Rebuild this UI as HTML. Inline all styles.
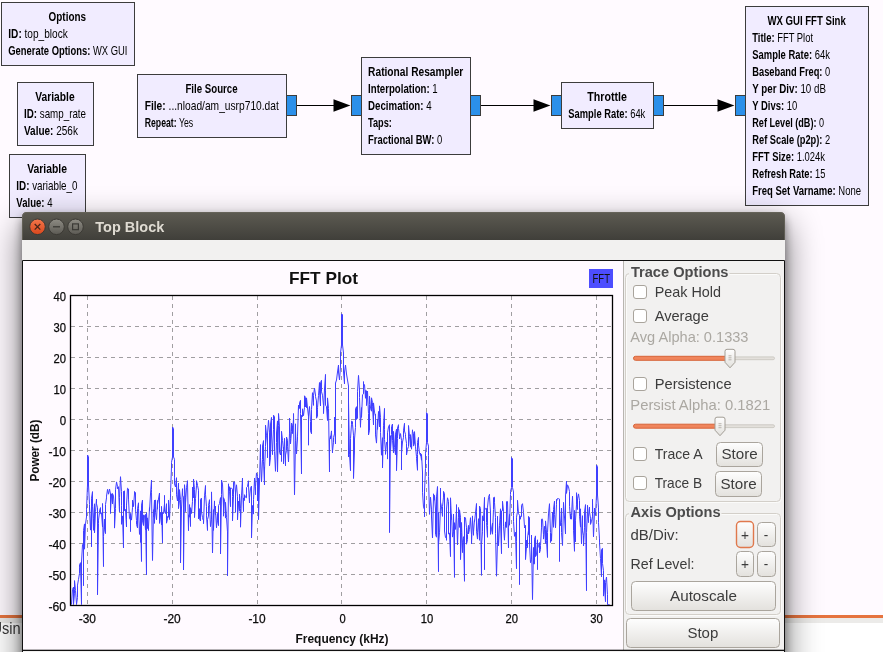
<!DOCTYPE html>
<html><head><meta charset="utf-8"><title>Top Block</title>
<style>html,body{margin:0;padding:0;background:#fffaff;overflow:hidden}svg{display:block}</style></head><body>
<svg width="883" height="652" viewBox="0 0 883 652">
<defs>
<filter id="shadow" x="-10%" y="-10%" width="120%" height="120%"><feGaussianBlur stdDeviation="17"/></filter>
<filter id="shadow2" x="-10%" y="-10%" width="120%" height="120%"><feGaussianBlur stdDeviation="5"/></filter>
<linearGradient id="tb" x1="0" y1="0" x2="0" y2="1"><stop offset="0" stop-color="#5d5b52"/><stop offset="1" stop-color="#3f3e39"/></linearGradient>
<linearGradient id="bclose" x1="0" y1="0" x2="0" y2="1"><stop offset="0" stop-color="#f4764a"/><stop offset="1" stop-color="#d9471d"/></linearGradient>
<linearGradient id="bgrey" x1="0" y1="0" x2="0" y2="1"><stop offset="0" stop-color="#8e8c84"/><stop offset="1" stop-color="#5c5a54"/></linearGradient>
<linearGradient id="btn" x1="0" y1="0" x2="0" y2="1"><stop offset="0" stop-color="#fefefe"/><stop offset="1" stop-color="#e3e1dd"/></linearGradient>
</defs>
<rect x="0" y="0" width="883" height="652" fill="#fffaff"/>
<g font-family="'Liberation Sans', sans-serif" font-size="11.9" fill="#000">
<rect x="1.5" y="2.5" width="133" height="63" fill="#f1ecff" stroke="#3c3c3c" stroke-width="1"/>
<text x="48.6" y="21" textLength="37.4" lengthAdjust="spacingAndGlyphs" font-weight="bold">Options</text>
<text x="8.3" y="38" textLength="59.5" lengthAdjust="spacingAndGlyphs"><tspan font-weight="bold">ID:</tspan> top_block</text>
<text x="8.3" y="55" textLength="119.1" lengthAdjust="spacingAndGlyphs"><tspan font-weight="bold">Generate Options:</tspan> WX GUI</text>
<rect x="17.5" y="82.5" width="76" height="63" fill="#f1ecff" stroke="#3c3c3c" stroke-width="1"/>
<text x="35.3" y="101" textLength="39.3" lengthAdjust="spacingAndGlyphs" font-weight="bold">Variable</text>
<text x="24" y="118" textLength="62.0" lengthAdjust="spacingAndGlyphs"><tspan font-weight="bold">ID:</tspan> samp_rate</text>
<text x="24" y="135" textLength="53.9" lengthAdjust="spacingAndGlyphs"><tspan font-weight="bold">Value:</tspan> 256k</text>
<rect x="9.5" y="154.5" width="76" height="63" fill="#f1ecff" stroke="#3c3c3c" stroke-width="1"/>
<text x="27.2" y="173" textLength="39.8" lengthAdjust="spacingAndGlyphs" font-weight="bold">Variable</text>
<text x="16.3" y="190" textLength="61.2" lengthAdjust="spacingAndGlyphs"><tspan font-weight="bold">ID:</tspan> variable_0</text>
<text x="16.3" y="207" textLength="36.2" lengthAdjust="spacingAndGlyphs"><tspan font-weight="bold">Value:</tspan> 4</text>
<rect x="137.5" y="74.5" width="149" height="63" fill="#f1ecff" stroke="#3c3c3c" stroke-width="1"/>
<text x="185.4" y="93" textLength="52.2" lengthAdjust="spacingAndGlyphs" font-weight="bold">File Source</text>
<text x="144.7" y="110" textLength="134.1" lengthAdjust="spacingAndGlyphs"><tspan font-weight="bold">File:</tspan> ...nload/am_usrp710.dat</text>
<text x="144.7" y="127" textLength="48.5" lengthAdjust="spacingAndGlyphs"><tspan font-weight="bold">Repeat:</tspan> Yes</text>
<rect x="286.5" y="95.5" width="10" height="20" fill="#2b90ea" stroke="#3c3c3c" stroke-width="1"/>
<line x1="297" y1="105.5" x2="335" y2="105.5" stroke="#000" stroke-width="1.2"/>
<polygon points="333.5,99.2 333.5,111.8 350.4,105.5" fill="#000"/>
<rect x="351.5" y="95.5" width="10" height="20" fill="#2b90ea" stroke="#3c3c3c" stroke-width="1"/>
<rect x="361.5" y="57.5" width="109" height="97" fill="#f1ecff" stroke="#3c3c3c" stroke-width="1"/>
<text x="368.1" y="76" textLength="95.2" lengthAdjust="spacingAndGlyphs" font-weight="bold">Rational Resampler</text>
<text x="368.1" y="93" textLength="69.6" lengthAdjust="spacingAndGlyphs"><tspan font-weight="bold">Interpolation:</tspan> 1</text>
<text x="368.1" y="110" textLength="63.5" lengthAdjust="spacingAndGlyphs"><tspan font-weight="bold">Decimation:</tspan> 4</text>
<text x="368.1" y="127" textLength="23.8" lengthAdjust="spacingAndGlyphs"><tspan font-weight="bold">Taps:</tspan></text>
<text x="368.1" y="144" textLength="74.1" lengthAdjust="spacingAndGlyphs"><tspan font-weight="bold">Fractional BW:</tspan> 0</text>
<rect x="470.5" y="95.5" width="10" height="20" fill="#2b90ea" stroke="#3c3c3c" stroke-width="1"/>
<line x1="481" y1="105.5" x2="535" y2="105.5" stroke="#000" stroke-width="1.2"/>
<polygon points="533.5,99.2 533.5,111.8 550.4,105.5" fill="#000"/>
<rect x="551.5" y="95.5" width="10" height="20" fill="#2b90ea" stroke="#3c3c3c" stroke-width="1"/>
<rect x="561.5" y="82.5" width="92" height="46" fill="#f1ecff" stroke="#3c3c3c" stroke-width="1"/>
<text x="587.3" y="101" textLength="39.7" lengthAdjust="spacingAndGlyphs" font-weight="bold">Throttle</text>
<text x="568.3" y="118" textLength="77.0" lengthAdjust="spacingAndGlyphs"><tspan font-weight="bold">Sample Rate:</tspan> 64k</text>
<rect x="653.5" y="95.5" width="10" height="20" fill="#2b90ea" stroke="#3c3c3c" stroke-width="1"/>
<line x1="664" y1="105.5" x2="719" y2="105.5" stroke="#000" stroke-width="1.2"/>
<polygon points="717.5,99.2 717.5,111.8 734.4,105.5" fill="#000"/>
<rect x="735.5" y="95.5" width="10" height="20" fill="#2b90ea" stroke="#3c3c3c" stroke-width="1"/>
<rect x="745.5" y="6.5" width="123" height="199" fill="#f1ecff" stroke="#3c3c3c" stroke-width="1"/>
<text x="767.4" y="25" textLength="78.4" lengthAdjust="spacingAndGlyphs" font-weight="bold">WX GUI FFT Sink</text>
<text x="752.3" y="42" textLength="60.7" lengthAdjust="spacingAndGlyphs"><tspan font-weight="bold">Title:</tspan> FFT Plot</text>
<text x="752.3" y="59" textLength="77.6" lengthAdjust="spacingAndGlyphs"><tspan font-weight="bold">Sample Rate:</tspan> 64k</text>
<text x="752.3" y="76" textLength="77.9" lengthAdjust="spacingAndGlyphs"><tspan font-weight="bold">Baseband Freq:</tspan> 0</text>
<text x="752.3" y="93" textLength="73.6" lengthAdjust="spacingAndGlyphs"><tspan font-weight="bold">Y per Div:</tspan> 10 dB</text>
<text x="752.3" y="110" textLength="45.0" lengthAdjust="spacingAndGlyphs"><tspan font-weight="bold">Y Divs:</tspan> 10</text>
<text x="752.3" y="127" textLength="71.8" lengthAdjust="spacingAndGlyphs"><tspan font-weight="bold">Ref Level (dB):</tspan> 0</text>
<text x="752.3" y="144" textLength="77.9" lengthAdjust="spacingAndGlyphs"><tspan font-weight="bold">Ref Scale (p2p):</tspan> 2</text>
<text x="752.3" y="161" textLength="72.7" lengthAdjust="spacingAndGlyphs"><tspan font-weight="bold">FFT Size:</tspan> 1.024k</text>
<text x="752.3" y="178" textLength="73.1" lengthAdjust="spacingAndGlyphs"><tspan font-weight="bold">Refresh Rate:</tspan> 15</text>
<text x="752.3" y="195" textLength="108.7" lengthAdjust="spacingAndGlyphs"><tspan font-weight="bold">Freq Set Varname:</tspan> None</text>
</g>
<rect x="0" y="618" width="883" height="40" fill="#ffffff"/>
<rect x="0" y="618" width="883" height="5" fill="#ecebe9"/>
<rect x="0" y="615" width="883" height="3" fill="#e6743f"/>
<text x="-8.6" y="633.6" textLength="29.2" lengthAdjust="spacingAndGlyphs" font-family="'Liberation Sans', sans-serif" font-size="16" fill="#3a3a3a">Usin</text>
<rect x="20" y="224" width="767" height="500" rx="6" fill="#000" opacity="0.5" filter="url(#shadow)"/>
<rect x="22" y="217" width="763" height="500" rx="6" fill="#000" opacity="0.42" filter="url(#shadow2)"/>
<path d="M22,241 V217 Q22,212 27,212 H780 Q785,212 785,217 V241 Z" fill="url(#tb)"/>
<path d="M22.5,240 V217 Q22.5,212.5 27,212.5 H780 Q784.5,212.5 784.5,217 V240" fill="none" stroke="#6a675d" stroke-width="1" opacity="0.7"/>
<rect x="22" y="240" width="763" height="412" fill="#f2f1f0"/>
<circle cx="37.5" cy="226.8" r="7.8" fill="url(#bclose)" stroke="#3b3934" stroke-width="1"/>
<path d="M34.7,224.0 l5.6,5.6 M40.3,224.0 l-5.6,5.6" stroke="#4a2518" stroke-width="1.3" fill="none"/>
<circle cx="56.5" cy="226.8" r="7.8" fill="url(#bgrey)" stroke="#3b3934" stroke-width="1"/>
<path d="M53,226.8 h7" stroke="#3a3935" stroke-width="1.3"/>
<circle cx="75.5" cy="226.8" r="7.8" fill="url(#bgrey)" stroke="#3b3934" stroke-width="1"/>
<rect x="72.6" y="223.9" width="5.8" height="5.8" fill="none" stroke="#3a3935" stroke-width="1.2"/>
<text x="95.3" y="232.2" textLength="69" lengthAdjust="spacingAndGlyphs" font-family="'Liberation Sans', sans-serif" font-weight="bold" font-size="14.6" fill="#dfdbd2">Top Block</text>
<rect x="23" y="261" width="601" height="390" fill="#fffaff"/>
<g stroke="#a09ea1" stroke-width="1" stroke-dasharray="4,4" shape-rendering="crispEdges">
<line x1="87.5" y1="296" x2="87.5" y2="605"/>
<line x1="172.5" y1="296" x2="172.5" y2="605"/>
<line x1="257.5" y1="296" x2="257.5" y2="605"/>
<line x1="341.5" y1="296" x2="341.5" y2="605"/>
<line x1="426.5" y1="296" x2="426.5" y2="605"/>
<line x1="511.5" y1="296" x2="511.5" y2="605"/>
<line x1="596.5" y1="296" x2="596.5" y2="605"/>
<line x1="71" y1="326.5" x2="612" y2="326.5"/>
<line x1="71" y1="357.5" x2="612" y2="357.5"/>
<line x1="71" y1="388.5" x2="612" y2="388.5"/>
<line x1="71" y1="419.5" x2="612" y2="419.5"/>
<line x1="71" y1="450.5" x2="612" y2="450.5"/>
<line x1="71" y1="481.5" x2="612" y2="481.5"/>
<line x1="71" y1="512.5" x2="612" y2="512.5"/>
<line x1="71" y1="543.5" x2="612" y2="543.5"/>
<line x1="71" y1="574.5" x2="612" y2="574.5"/>
</g>
<polyline points="71.5,604.5 72.5,589.4 73.5,587.1 73.5,604.5 74.5,593.2 74.5,589.7 74.5,580.6 75.5,590.5 76.5,603.9 76.5,604.5 77.5,597.4 77.5,585.1 78.5,579.4 79.5,573.3 79.5,567.1 79.5,564.9 80.5,562.7 80.5,563.9 81.5,604.5 81.5,562.0 82.5,544.9 83.5,543.0 83.5,585.7 83.5,530.5 84.5,523.9 84.5,549.2 85.5,523.9 86.5,517.0 86.5,509.2 87.5,485.0 87.5,455.0 88.5,456.5 88.5,485.0 89.5,504.4 89.5,509.0 90.5,530.1 91.5,506.4 91.5,546.8 91.5,498.2 92.5,491.6 92.5,506.1 93.5,530.3 93.5,518.8 94.5,503.8 94.5,533.0 95.5,511.5 96.5,499.0 96.5,503.8 97.5,507.8 97.5,594.8 98.5,523.8 98.5,520.1 99.5,512.4 99.5,510.9 100.5,507.6 100.5,513.7 101.5,512.8 102.5,526.8 102.5,503.5 103.5,566.6 103.5,536.4 104.5,519.1 104.5,529.2 105.5,533.6 105.5,504.5 106.5,497.9 106.5,496.1 107.5,489.6 107.5,489.3 108.5,494.2 108.5,494.0 109.5,489.0 110.5,494.0 110.5,513.5 110.5,510.8 111.5,493.8 111.5,494.9 112.5,504.0 112.5,493.5 113.5,496.1 114.5,509.1 114.5,528.1 115.5,508.4 115.5,489.8 116.5,482.3 116.5,481.9 117.5,486.3 117.5,488.8 118.5,486.7 119.5,511.8 119.5,506.8 119.5,497.6 120.5,476.7 121.5,491.7 121.5,505.8 121.5,524.3 122.5,515.9 123.5,548.0 123.5,491.3 124.5,493.1 124.5,490.8 124.5,510.8 125.5,509.4 126.5,526.9 126.5,519.8 126.5,505.1 127.5,488.2 128.5,489.0 128.5,499.1 129.5,518.7 130.5,519.8 130.5,531.6 130.5,513.4 131.5,520.1 132.5,507.8 132.5,500.1 133.5,505.2 133.5,506.6 134.5,494.0 134.5,491.5 135.5,492.5 135.5,509.2 136.5,520.5 136.5,524.4 137.5,527.9 137.5,508.8 138.5,502.8 138.5,508.2 139.5,534.4 140.5,520.3 140.5,542.4 140.5,510.9 141.5,561.5 141.5,505.1 142.5,500.0 142.5,520.9 143.5,525.5 143.5,515.0 144.5,515.4 145.5,529.9 145.5,514.4 146.5,574.8 146.5,512.6 147.5,528.5 147.5,517.9 148.5,530.5 148.5,526.9 149.5,507.7 149.5,510.8 150.5,494.0 151.5,480.0 151.5,489.6 151.5,492.2 152.5,560.5 153.5,509.7 153.5,516.8 154.5,500.1 154.5,523.4 154.5,510.1 155.5,499.9 155.5,512.2 156.5,519.7 157.5,500.5 157.5,509.2 157.5,504.7 159.5,493.0 159.5,508.9 159.5,523.4 160.5,512.5 161.5,524.8 161.5,507.1 161.5,506.4 162.5,542.9 162.5,512.6 163.5,513.5 164.5,503.9 164.5,495.4 164.5,511.5 165.5,513.5 166.5,503.7 166.5,523.2 167.5,518.8 167.5,516.4 168.5,517.2 168.5,500.1 169.5,516.4 169.5,519.5 170.5,497.1 170.5,493.1 171.5,467.0 171.5,462.3 172.5,457.0 172.5,427.0 173.5,428.5 173.5,457.0 174.5,459.3 174.5,477.9 174.5,483.9 175.5,487.0 175.5,487.0 176.5,477.7 176.5,494.8 177.5,501.0 178.5,483.0 178.5,508.6 179.5,500.8 179.5,489.6 180.5,499.4 180.5,563.0 181.5,507.1 181.5,507.8 182.5,488.7 182.5,495.2 183.5,497.1 183.5,570.0 184.5,484.7 185.5,497.7 185.5,511.6 185.5,503.1 186.5,487.7 187.5,480.7 187.5,483.1 188.5,530.7 188.5,514.8 189.5,517.2 189.5,504.6 190.5,526.5 190.5,507.7 191.5,510.9 191.5,513.5 192.5,501.4 192.5,487.0 193.5,497.8 193.5,479.0 194.5,489.3 194.5,517.6 195.5,498.5 196.5,485.8 196.5,480.7 197.5,485.0 197.5,485.4 198.5,490.2 198.5,518.9 199.5,508.7 199.5,518.8 200.5,521.0 200.5,499.3 201.5,498.1 201.5,512.1 202.5,517.5 202.5,518.5 203.5,520.5 203.5,523.7 204.5,495.8 205.5,485.5 205.5,494.2 206.5,506.7 206.5,515.9 207.5,530.5 207.5,519.6 208.5,516.1 208.5,505.5 209.5,499.7 209.5,504.6 210.5,526.6 211.5,519.3 211.5,497.0 211.5,491.9 212.5,553.0 213.5,509.6 213.5,530.4 214.5,500.9 214.5,506.7 215.5,514.8 215.5,506.1 215.5,511.4 216.5,527.9 217.5,513.4 217.5,520.7 218.5,525.6 218.5,505.7 219.5,503.6 219.5,503.4 220.5,497.6 220.5,554.0 221.5,494.4 221.5,480.0 222.5,484.1 223.5,507.3 223.5,516.2 223.5,497.7 224.5,499.9 225.5,518.1 225.5,508.9 225.5,502.3 226.5,517.5 227.5,531.9 227.5,575.8 228.5,483.8 228.5,489.9 229.5,486.7 229.5,491.2 230.5,506.7 230.5,487.9 231.5,488.1 232.5,489.2 232.5,496.3 232.5,520.8 233.5,494.9 233.5,482.1 234.5,481.8 235.5,492.9 235.5,512.4 235.5,493.4 236.5,484.8 237.5,496.8 237.5,519.8 238.5,501.1 238.5,503.3 239.5,511.2 239.5,494.2 240.5,508.5 240.5,527.2 241.5,495.9 242.5,478.0 242.5,486.1 243.5,511.6 243.5,497.9 244.5,500.1 244.5,500.5 244.5,494.7 245.5,497.3 246.5,497.8 246.5,493.9 246.5,487.5 247.5,486.5 248.5,480.8 248.5,486.1 249.5,503.0 249.5,497.5 250.5,488.2 251.5,486.0 251.5,486.8 251.5,538.0 252.5,505.5 253.5,514.1 253.5,499.7 254.5,479.5 254.5,478.0 255.5,491.6 255.5,494.7 255.5,486.5 256.5,472.9 257.5,476.4 257.5,501.0 257.5,491.6 258.5,478.0 258.5,519.7 260.5,444.6 260.5,446.4 260.5,457.4 261.5,482.0 262.5,459.7 262.5,446.0 263.5,440.6 263.5,461.8 264.5,485.0 264.5,467.2 264.5,470.2 265.5,446.4 265.5,425.2 266.5,435.2 267.5,445.4 267.5,457.8 267.5,434.0 268.5,420.3 269.5,432.1 269.5,465.8 270.5,457.2 270.5,424.0 271.5,417.4 271.5,435.0 272.5,454.6 272.5,452.6 273.5,429.3 273.5,415.2 274.5,416.6 274.5,451.5 275.5,471.3 276.5,442.6 276.5,433.0 277.5,420.9 277.5,472.0 278.5,425.3 278.5,413.5 279.5,426.9 279.5,452.2 280.5,455.0 281.5,440.9 281.5,461.5 281.5,431.3 282.5,440.4 283.5,450.1 283.5,447.4 283.5,463.9 284.5,439.1 284.5,438.3 285.5,465.8 285.5,455.0 286.5,450.3 286.5,437.0 287.5,440.2 287.5,446.2 288.5,462.0 289.5,433.1 289.5,418.0 290.5,438.7 290.5,443.9 291.5,431.2 291.5,423.0 292.5,425.6 292.5,433.6 293.5,418.6 293.5,413.5 294.5,494.8 295.5,440.3 295.5,423.8 295.5,431.0 296.5,453.9 297.5,439.0 297.5,436.1 298.5,405.2 298.5,409.5 299.5,408.3 299.5,402.9 300.5,400.3 300.5,413.6 301.5,474.0 301.5,415.3 302.5,416.6 302.5,408.8 303.5,415.7 304.5,407.4 304.5,395.8 305.5,397.4 305.5,407.0 305.5,398.0 306.5,407.7 306.5,397.9 307.5,408.0 308.5,416.3 308.5,445.2 308.5,416.2 309.5,406.5 310.5,421.5 310.5,430.8 311.5,433.8 311.5,409.5 312.5,392.7 313.5,405.4 313.5,402.5 313.5,395.3 314.5,388.1 315.5,395.0 315.5,396.6 316.5,400.9 316.5,418.2 317.5,416.3 317.5,409.2 317.5,407.8 318.5,395.5 319.5,382.5 319.5,390.9 320.5,406.0 320.5,382.7 321.5,380.3 321.5,391.8 322.5,395.2 323.5,405.4 323.5,412.0 323.5,413.6 324.5,389.0 325.5,374.4 325.5,390.1 325.5,405.2 326.5,406.7 327.5,420.5 327.5,418.1 327.5,397.9 328.5,408.6 329.5,472.0 329.5,439.9 330.5,435.9 330.5,439.0 331.5,430.9 331.5,432.7 332.5,453.0 332.5,451.4 333.5,442.2 333.5,437.4 334.5,433.9 334.5,417.0 335.5,444.0 335.5,383.0 336.5,380.0 337.5,372.0 338.5,365.0 338.5,372.0 339.5,380.0 340.5,366.0 340.5,353.0 341.5,345.0 341.5,314.0 342.5,314.5 342.5,345.0 343.5,353.0 343.5,372.0 344.5,384.0 344.5,372.0 345.5,365.0 346.5,374.0 347.5,380.0 348.5,386.0 348.5,457.0 348.5,393.3 348.5,401.6 349.5,454.2 350.5,470.7 350.5,438.4 351.5,424.2 351.5,421.1 352.5,421.6 352.5,424.2 353.5,435.2 353.5,478.5 354.5,450.2 354.5,439.0 355.5,427.4 355.5,408.9 356.5,406.7 356.5,419.5 357.5,418.0 357.5,391.7 358.5,375.4 359.5,390.1 359.5,397.6 360.5,427.3 360.5,425.0 361.5,407.6 361.5,417.4 362.5,394.7 363.5,393.9 363.5,381.6 363.5,384.2 364.5,384.6 365.5,398.3 365.5,390.4 366.5,390.8 366.5,405.6 367.5,394.8 367.5,391.0 368.5,413.6 368.5,435.0 369.5,430.2 369.5,404.5 369.5,396.2 370.5,408.3 371.5,411.2 371.5,397.8 372.5,402.6 372.5,406.1 373.5,425.0 373.5,402.9 374.5,412.1 375.5,416.4 375.5,414.2 375.5,434.9 376.5,443.1 377.5,419.0 377.5,429.4 378.5,411.8 378.5,411.4 379.5,427.0 379.5,405.9 380.5,417.3 380.5,432.6 381.5,455.2 381.5,449.1 382.5,437.7 382.5,468.0 383.5,425.8 384.5,408.4 384.5,429.3 384.5,439.7 385.5,451.2 385.5,454.4 386.5,442.2 387.5,444.9 387.5,459.1 387.5,432.8 388.5,427.0 389.5,424.7 389.5,532.6 390.5,435.7 390.5,450.6 391.5,434.4 391.5,426.6 392.5,424.0 392.5,440.3 393.5,452.8 393.5,431.4 394.5,447.4 395.5,454.7 395.5,434.1 396.5,429.2 396.5,470.7 397.5,438.6 397.5,428.0 398.5,424.7 398.5,425.3 398.5,428.7 399.5,436.3 399.5,439.0 400.5,433.6 401.5,440.3 401.5,470.0 401.5,453.7 402.5,442.0 403.5,437.3 403.5,430.2 404.5,423.3 404.5,431.0 405.5,434.4 405.5,436.8 406.5,443.3 406.5,455.0 407.5,449.3 408.5,446.5 408.5,426.0 408.5,425.5 409.5,436.4 410.5,447.2 410.5,434.6 411.5,443.1 411.5,449.2 412.5,429.8 412.5,431.2 413.5,433.4 413.5,446.1 414.5,443.0 414.5,431.6 415.5,446.8 416.5,456.7 416.5,458.3 417.5,470.3 417.5,454.5 417.5,442.4 418.5,437.4 418.5,445.1 419.5,453.1 420.5,455.6 420.5,453.0 421.5,460.2 421.5,454.4 422.5,472.0 422.5,492.3 423.5,506.9 424.5,509.6 424.5,516.8 424.5,491.1 425.5,468.5 425.5,453.2 426.5,442.6 426.5,412.6 427.5,414.1 427.5,442.6 428.5,446.1 428.5,455.7 428.5,476.5 429.5,514.4 430.5,497.4 430.5,497.1 431.5,509.1 431.5,518.0 431.5,517.2 432.5,538.0 433.5,496.9 433.5,493.8 434.5,500.2 434.5,495.4 435.5,509.0 435.5,534.4 436.5,537.2 436.5,496.9 437.5,486.5 438.5,571.7 438.5,512.4 438.5,544.5 439.5,532.8 440.5,507.1 440.5,488.0 440.5,502.2 441.5,506.8 442.5,516.4 442.5,506.5 443.5,497.1 443.5,491.4 444.5,493.7 444.5,531.0 445.5,537.6 446.5,537.4 446.5,540.3 446.5,509.1 447.5,497.8 448.5,501.4 448.5,516.0 448.5,534.0 449.5,533.1 450.5,556.6 450.5,505.9 450.5,497.8 451.5,519.5 451.5,514.6 452.5,537.1 453.5,531.7 453.5,514.0 454.5,577.4 454.5,522.7 455.5,529.4 456.5,509.4 456.5,504.6 456.5,513.9 457.5,544.8 458.5,517.5 458.5,507.5 459.5,527.4 459.5,509.8 460.5,517.2 460.5,559.6 461.5,532.7 461.5,522.5 462.5,552.6 462.5,542.4 463.5,536.7 463.5,538.3 464.5,581.3 464.5,517.0 465.5,518.0 466.5,527.8 466.5,533.9 466.5,544.2 467.5,539.6 467.5,534.4 468.5,525.4 468.5,534.0 469.5,529.3 470.5,517.7 470.5,519.9 471.5,534.7 471.5,544.0 472.5,515.9 472.5,520.0 473.5,535.3 473.5,531.9 474.5,519.8 474.5,521.8 475.5,513.0 476.5,503.5 476.5,511.7 476.5,531.2 477.5,539.1 477.5,532.8 478.5,518.7 478.5,522.8 479.5,540.3 479.5,506.1 480.5,508.4 481.5,575.4 481.5,544.3 482.5,531.8 482.5,515.8 483.5,520.7 484.5,497.4 484.5,569.7 484.5,507.3 485.5,509.2 486.5,508.3 486.5,522.4 487.5,537.3 487.5,525.4 487.5,507.2 488.5,497.4 489.5,494.3 489.5,496.4 490.5,512.1 490.5,534.4 491.5,529.2 491.5,528.9 492.5,523.1 492.5,534.2 493.5,509.5 493.5,497.6 494.5,497.2 494.5,502.8 495.5,517.4 495.5,533.7 496.5,576.2 497.5,540.9 497.5,516.3 497.5,522.5 498.5,542.9 498.5,545.8 499.5,525.8 500.5,508.8 500.5,519.2 501.5,553.7 501.5,510.9 502.5,510.6 502.5,501.3 503.5,511.2 503.5,526.2 504.5,540.2 504.5,538.5 505.5,521.9 505.5,527.1 506.5,527.4 506.5,501.6 507.5,501.5 508.5,547.9 508.5,528.8 508.5,527.4 509.5,514.4 509.5,525.2 510.5,494.5 510.5,491.5 511.5,487.5 511.5,457.5 512.5,459.0 512.5,487.5 513.5,492.0 513.5,515.7 513.5,521.4 514.5,536.3 515.5,532.2 516.5,568.7 516.5,541.4 516.5,517.2 517.5,511.4 517.5,500.3 518.5,513.5 519.5,515.3 519.5,584.6 519.5,519.1 520.5,519.1 520.5,516.2 521.5,516.7 521.5,505.3 522.5,503.7 523.5,512.4 524.5,526.8 524.5,527.9 525.5,525.4 525.5,559.6 526.5,546.6 526.5,540.0 527.5,547.7 527.5,538.1 528.5,530.4 528.5,534.5 528.5,516.4 529.5,517.4 529.5,544.1 530.5,562.7 531.5,559.6 531.5,535.1 531.5,541.1 532.5,599.6 533.5,547.5 533.5,563.9 534.5,563.9 534.5,539.2 535.5,535.9 535.5,556.6 536.5,554.8 537.5,539.8 537.5,569.6 537.5,548.6 538.5,545.7 539.5,542.6 539.5,552.9 540.5,549.5 540.5,545.7 541.5,527.9 541.5,519.2 542.5,519.0 542.5,519.3 543.5,534.5 543.5,539.1 544.5,526.3 545.5,543.4 545.5,529.7 545.5,520.9 546.5,532.0 546.5,540.6 547.5,557.5 547.5,532.4 548.5,513.9 549.5,503.7 549.5,504.9 550.5,532.6 550.5,542.5 551.5,533.8 551.5,541.1 552.5,512.1 552.5,515.5 553.5,527.3 553.5,509.5 554.5,501.1 554.5,514.4 555.5,527.8 556.5,504.3 556.5,499.4 556.5,501.3 557.5,498.5 558.5,498.6 558.5,498.6 559.5,499.1 559.5,561.5 559.5,519.0 560.5,525.7 561.5,508.0 561.5,522.2 561.5,532.6 562.5,545.5 563.5,503.9 563.5,502.4 564.5,518.0 564.5,516.7 565.5,534.0 565.5,496.0 566.5,481.1 566.5,493.4 567.5,485.2 567.5,484.8 568.5,486.9 569.5,491.6 569.5,506.3 570.5,519.1 570.5,513.9 571.5,519.2 571.5,515.7 572.5,496.8 572.5,496.2 573.5,521.0 573.5,530.2 574.5,551.3 574.5,510.4 575.5,541.9 575.5,520.2 576.5,504.9 576.5,492.7 577.5,509.5 577.5,498.8 578.5,493.9 579.5,500.6 579.5,516.2 580.5,527.1 580.5,508.8 580.5,511.0 581.5,543.9 582.5,515.7 582.5,530.9 583.5,535.7 583.5,546.0 584.5,527.8 584.5,512.2 585.5,504.6 585.5,505.1 586.5,590.7 586.5,532.5 587.5,511.6 587.5,505.3 588.5,522.6 588.5,516.8 589.5,507.1 589.5,511.9 590.5,518.2 590.5,524.4 591.5,521.2 592.5,516.6 592.5,499.3 592.5,503.0 593.5,536.8 594.5,512.0 594.5,508.0 595.5,515.5 595.5,514.8 596.5,495.0 596.5,465.0 597.5,466.5 597.5,495.0 598.5,507.9 598.5,522.7 599.5,538.9 599.5,542.9 600.5,558.5 601.5,576.8 601.5,549.5 602.5,548.3 602.5,563.5 603.5,570.7 603.5,596.1 604.5,579.9 604.5,587.0 605.5,601.7 605.5,582.6 606.5,577.0 607.5,594.7 607.5,604.5 607.5,604.5 608.5,604.5 608.5,604.5 609.5,604.5 609.5,604.5" fill="none" stroke="#3f3fff" stroke-width="1.0" stroke-linejoin="bevel"/>
<rect x="70.5" y="295.5" width="542" height="310" fill="none" stroke="#000" stroke-width="1.3"/>
<g font-family="'Liberation Sans', sans-serif" font-size="12" fill="#0a0a0a" stroke="#0a0a0a" stroke-width="0.25">
<text x="53.6" y="300.8" textLength="12.5" lengthAdjust="spacingAndGlyphs">40</text>
<text x="53.6" y="331.8" textLength="12.5" lengthAdjust="spacingAndGlyphs">30</text>
<text x="53.6" y="362.8" textLength="12.5" lengthAdjust="spacingAndGlyphs">20</text>
<text x="53.6" y="393.8" textLength="12.5" lengthAdjust="spacingAndGlyphs">10</text>
<text x="59.7" y="424.8" textLength="6.4" lengthAdjust="spacingAndGlyphs">0</text>
<text x="48.5" y="455.8" textLength="17.6" lengthAdjust="spacingAndGlyphs">-10</text>
<text x="48.5" y="486.8" textLength="17.6" lengthAdjust="spacingAndGlyphs">-20</text>
<text x="48.5" y="517.8" textLength="17.6" lengthAdjust="spacingAndGlyphs">-30</text>
<text x="48.5" y="548.8" textLength="17.6" lengthAdjust="spacingAndGlyphs">-40</text>
<text x="48.5" y="579.8" textLength="17.6" lengthAdjust="spacingAndGlyphs">-50</text>
<text x="48.5" y="610.8" textLength="17.6" lengthAdjust="spacingAndGlyphs">-60</text>
<text x="78.7" y="623.1" textLength="17.2" lengthAdjust="spacingAndGlyphs">-30</text>
<text x="163.5" y="623.1" textLength="17.2" lengthAdjust="spacingAndGlyphs">-20</text>
<text x="248.4" y="623.1" textLength="17.2" lengthAdjust="spacingAndGlyphs">-10</text>
<text x="339.6" y="623.1" textLength="6.2" lengthAdjust="spacingAndGlyphs">0</text>
<text x="420.7" y="623.1" textLength="12.5" lengthAdjust="spacingAndGlyphs">10</text>
<text x="505.5" y="623.1" textLength="12.5" lengthAdjust="spacingAndGlyphs">20</text>
<text x="590.3" y="623.1" textLength="12.5" lengthAdjust="spacingAndGlyphs">30</text>
</g>
<text x="289" y="284" textLength="69" lengthAdjust="spacingAndGlyphs" font-family="'Liberation Sans', sans-serif" font-weight="bold" font-size="16.5" fill="#111">FFT Plot</text>
<text x="295.5" y="642.6" textLength="93" lengthAdjust="spacingAndGlyphs" font-family="'Liberation Sans', sans-serif" font-weight="bold" font-size="12" fill="#111">Frequency (kHz)</text>
<text transform="translate(38.8,481.6) rotate(-90)" x="0" y="0" textLength="62" lengthAdjust="spacingAndGlyphs" font-family="'Liberation Sans', sans-serif" font-weight="bold" font-size="12" fill="#111">Power (dB)</text>
<rect x="589" y="269" width="24" height="19" fill="#4d4dff"/>
<text x="592.5" y="283" textLength="17.5" lengthAdjust="spacingAndGlyphs" font-family="'Liberation Sans', sans-serif" font-size="12" fill="#111">FFT</text>
<g font-family="'Liberation Sans', sans-serif">
<rect x="623" y="261" width="1" height="390" fill="#b8b5b0"/>
<rect x="626.5" y="274.5" width="155" height="228" rx="4" fill="none" stroke="#fbfbfa" stroke-width="1"/>
<rect x="625.5" y="273.5" width="155" height="228" rx="4" fill="none" stroke="#d3cfc9" stroke-width="1"/>
<rect x="629" y="266" width="100.5" height="14" fill="#f2f1f0"/>
<text x="630.9" y="277" textLength="97.6" lengthAdjust="spacingAndGlyphs" font-weight="bold" fill="#4c4c4c" font-size="14.5">Trace Options</text>
<rect x="633.5" y="285.5" width="13" height="13" rx="2.5" fill="#fff" stroke="#a9a49c" stroke-width="1"/>
<text x="654.7" y="296.8" textLength="66.3" lengthAdjust="spacingAndGlyphs" fill="#3c3c3c" font-size="14.5">Peak Hold</text>
<rect x="633.5" y="309.5" width="13" height="13" rx="2.5" fill="#fff" stroke="#a9a49c" stroke-width="1"/>
<text x="654.7" y="320.6" textLength="54.1" lengthAdjust="spacingAndGlyphs" fill="#3c3c3c" font-size="14.5">Average</text>
<text x="630.3" y="342.2" textLength="118.2" lengthAdjust="spacingAndGlyphs" fill="#aba8a2" font-size="14.5">Avg Alpha: 0.1333</text>
<rect x="633.5" y="356.90000000000003" width="141" height="2.8" rx="1.4" fill="#e3e0db" stroke="#cbc7c1" stroke-width="0.9"/>
<rect x="633.5" y="356.3" width="97" height="4" rx="2" fill="#f0855c" stroke="#d9663a" stroke-width="1"/>
<path d="M725,351.3 q0,-2 2,-2 h6 q2,0 2,2 v11 l-5,5.5 l-5,-5.5 Z" fill="url(#btn)" stroke="#a39e96" stroke-width="1"/>
<path d="M728.5,355.8 h3 M728.5,357.8 h3 M728.5,359.8 h3" stroke="#aaa59d" stroke-width="0.8"/>
<rect x="633.5" y="377.5" width="13" height="13" rx="2.5" fill="#fff" stroke="#a9a49c" stroke-width="1"/>
<text x="654.7" y="389" textLength="76.9" lengthAdjust="spacingAndGlyphs" fill="#3c3c3c" font-size="14.5">Persistence</text>
<text x="630.3" y="410.2" textLength="140.0" lengthAdjust="spacingAndGlyphs" fill="#aba8a2" font-size="14.5">Persist Alpha: 0.1821</text>
<rect x="633.5" y="424.8" width="141" height="2.8" rx="1.4" fill="#e3e0db" stroke="#cbc7c1" stroke-width="0.9"/>
<rect x="633.5" y="424.2" width="87" height="4" rx="2" fill="#f0855c" stroke="#d9663a" stroke-width="1"/>
<path d="M715,419.2 q0,-2 2,-2 h6 q2,0 2,2 v11 l-5,5.5 l-5,-5.5 Z" fill="url(#btn)" stroke="#a39e96" stroke-width="1"/>
<path d="M718.5,423.7 h3 M718.5,425.7 h3 M718.5,427.7 h3" stroke="#aaa59d" stroke-width="0.8"/>
<rect x="633.5" y="447.5" width="13" height="13" rx="2.5" fill="#fff" stroke="#a9a49c" stroke-width="1"/>
<text x="654.7" y="458.6" textLength="47.9" lengthAdjust="spacingAndGlyphs" fill="#3c3c3c" font-size="14.5">Trace A</text>
<rect x="716.5" y="442.5" width="46" height="24" rx="4" fill="url(#btn)" stroke="#aaa59d" stroke-width="1"/>
<text x="721.4" y="459.4" textLength="36.3" lengthAdjust="spacingAndGlyphs" fill="#3c3c3c" font-size="14.5">Store</text>
<rect x="633.5" y="476.5" width="13" height="13" rx="2.5" fill="#fff" stroke="#a9a49c" stroke-width="1"/>
<text x="654.7" y="487.6" textLength="47.5" lengthAdjust="spacingAndGlyphs" fill="#3c3c3c" font-size="14.5">Trace B</text>
<rect x="715.5" y="471.5" width="46" height="25" rx="4" fill="url(#btn)" stroke="#aaa59d" stroke-width="1"/>
<text x="720.4" y="488.6" textLength="36.3" lengthAdjust="spacingAndGlyphs" fill="#3c3c3c" font-size="14.5">Store</text>
<rect x="626.5" y="514.5" width="155" height="101" rx="4" fill="none" stroke="#fbfbfa" stroke-width="1"/>
<rect x="625.5" y="513.5" width="155" height="101" rx="4" fill="none" stroke="#d3cfc9" stroke-width="1"/>
<rect x="629" y="506" width="92.5" height="14" fill="#f2f1f0"/>
<text x="630.5" y="516.8" textLength="90.1" lengthAdjust="spacingAndGlyphs" font-weight="bold" fill="#4c4c4c" font-size="14.5">Axis Options</text>
<text x="630.5" y="540.2" textLength="48.1" lengthAdjust="spacingAndGlyphs" fill="#3c3c3c" font-size="14.5">dB/Div:</text>
<rect x="736.5" y="521.5" width="17" height="26" rx="4" fill="url(#btn)" stroke="#e0784c" stroke-width="1.4"/>
<text x="741" y="539.5" textLength="8.0" lengthAdjust="spacingAndGlyphs" fill="#3c3c3c" font-size="14.5">+</text>
<rect x="757.5" y="522.5" width="18" height="24" rx="4" fill="url(#btn)" stroke="#aaa59d" stroke-width="1"/>
<text x="763.7" y="539.5" textLength="4.5" lengthAdjust="spacingAndGlyphs" fill="#3c3c3c" font-size="14.5">-</text>
<text x="630.5" y="569.1" textLength="64.0" lengthAdjust="spacingAndGlyphs" fill="#3c3c3c" font-size="14.5">Ref Level:</text>
<rect x="736.5" y="551.5" width="17" height="25" rx="4" fill="url(#btn)" stroke="#aaa59d" stroke-width="1"/>
<text x="741" y="568.5" textLength="8.0" lengthAdjust="spacingAndGlyphs" fill="#3c3c3c" font-size="14.5">+</text>
<rect x="757.5" y="551.5" width="18" height="25" rx="4" fill="url(#btn)" stroke="#aaa59d" stroke-width="1"/>
<text x="763.7" y="568.5" textLength="4.5" lengthAdjust="spacingAndGlyphs" fill="#3c3c3c" font-size="14.5">-</text>
<rect x="631.5" y="581.5" width="144" height="29" rx="4" fill="url(#btn)" stroke="#aaa59d" stroke-width="1"/>
<text x="670" y="600.6" textLength="66.9" lengthAdjust="spacingAndGlyphs" fill="#3c3c3c" font-size="14.5">Autoscale</text>
<rect x="626.5" y="618.5" width="153" height="29" rx="4" fill="url(#btn)" stroke="#aaa59d" stroke-width="1"/>
<text x="687.4" y="637.9" textLength="30.9" lengthAdjust="spacingAndGlyphs" fill="#3c3c3c" font-size="14.5">Stop</text>
</g>
<path d="M22.5,652 V260.5 H784.5 V652" fill="none" stroke="#111" stroke-width="1"/>
<rect x="22" y="649.7" width="763" height="1.3" fill="#111"/>
</svg></body></html>
